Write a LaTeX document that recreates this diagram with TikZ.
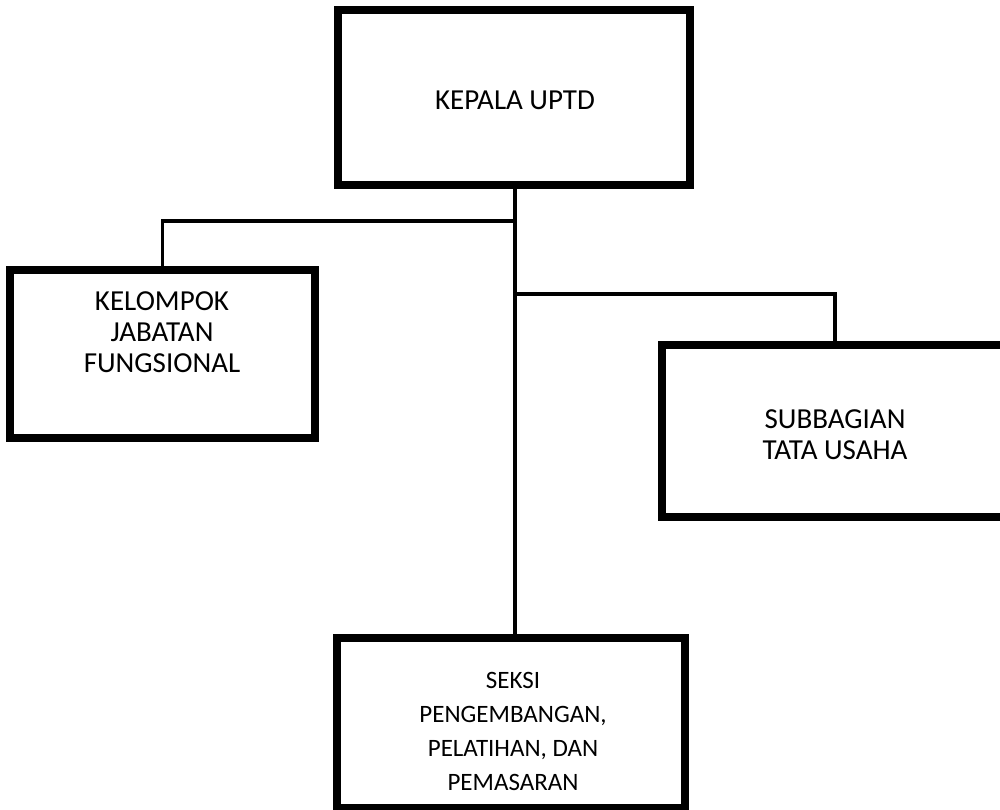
\documentclass[tikz,border=0pt]{standalone}
\usepackage{fontspec}
\setmainfont{Carlito}
\begin{document}
\begin{tikzpicture}[x=1pt,y=-1pt,
  orgbox/.style={draw=black,line width=7.5pt,fill=white,inner sep=0pt,line join=miter},
  conn/.style={draw=black,line width=3.5pt},
  bigtxt/.style={inner sep=0pt,align=center,font=\fontsize{29}{31}\selectfont},
  smalltxt/.style={inner sep=0pt,align=center,font=\fontsize{25}{34}\selectfont}]
\clip (0,0) rectangle (1000,810);
\useasboundingbox (0,0) rectangle (1000,810);
% boxes
\node[orgbox,minimum width=352pt,minimum height=175pt] (kepala) at (514,97.5) {};
\node[orgbox,minimum width=305pt,minimum height=168pt] (kjf) at (162.5,354) {};
\node[orgbox,minimum width=346pt,minimum height=172pt] (tu) at (835,431) {};
\node[orgbox,minimum width=348pt,minimum height=170pt] (seksi) at (511,723) {};
% connectors
\coordinate (trunk) at (515,185);
\coordinate (jl) at (515,221);
\coordinate (jr) at (515,294);
\draw[conn] (trunk) -- (trunk |- seksi.north);
\draw[conn] (jl) -| (kjf.north);
\draw[conn] (jr) -| (tu.north);
% texts
\node[bigtxt] (tkepala) at (515,100) {KEPALA UPTD};
\node[bigtxt] (tkjf) at (162,332) {KELOMPOK\\JABATAN\\FUNGSIONAL};
\node[bigtxt] (ttu) at (835,435) {SUBBAGIAN\\TATA USAHA};
\node[smalltxt] (tseksi) at (513,731) {SEKSI\\PENGEMBANGAN,\\PELATIHAN, DAN\\PEMASARAN};
\end{tikzpicture}
\end{document}
